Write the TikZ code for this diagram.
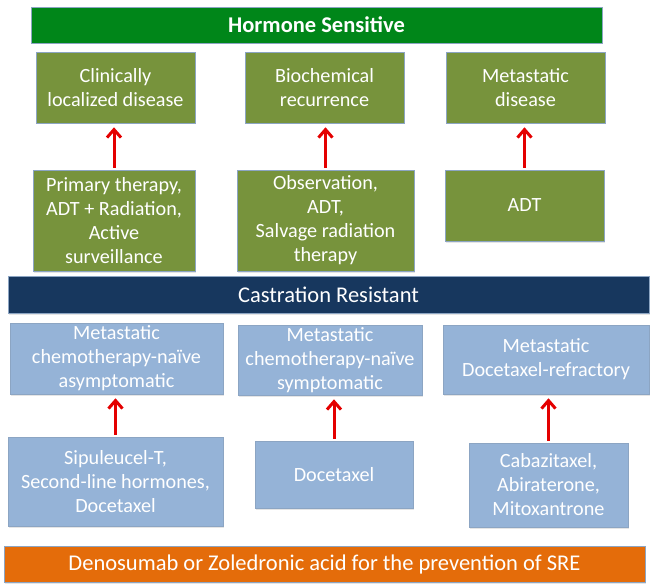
\documentclass[tikz,border=0pt]{standalone}
\usepackage{fontspec}
\setmainfont{Carlito}
\usepackage{tikz}
\usetikzlibrary{arrows.meta,shadows}

\definecolor{hsgreen}{RGB}{0,134,25}
\definecolor{olivebox}{RGB}{119,147,60}
\definecolor{crnavy}{RGB}{23,55,94}
\definecolor{bluebox}{RGB}{149,179,215}
\definecolor{sreorange}{RGB}{228,108,10}
\definecolor{arrowred}{RGB}{228,0,0}
\definecolor{boxline}{RGB}{140,165,195}

\tikzset{
  boxbase/.style={rectangle,draw=boxline,line width=0.6pt,inner sep=2pt,align=center,
    text=white,font=\fontsize{20.2}{24}\selectfont,
    drop shadow={shadow xshift=1pt,shadow yshift=-1.5pt,fill=black!20}},
  hsbox/.style={boxbase,fill=olivebox},
  crbox/.style={boxbase,fill=bluebox},
  banner/.style={boxbase,font=\fontsize{22.5}{26}\selectfont,minimum height=36pt},
  uparrow/.style={draw=arrowred,line width=3pt,-{Straight Barb[length=8pt,width=14pt]},
    shorten >=4pt,shorten <=2pt}
}

\begin{document}
\begin{tikzpicture}[x=1pt,y=-1pt]
  \useasboundingbox (0,0) rectangle (653,588);
  % hormone sensitive
  \node[banner,fill=hsgreen,minimum width=571pt,font=\fontsize{22.5}{26}\selectfont\bfseries] (hs) at (316.5,25) {Hormone Sensitive};
  \node[hsbox,minimum width=159pt,minimum height=71pt] (cld) at (115.5,87.5) {Clinically\\localized disease};
  \node[hsbox,minimum width=159pt,minimum height=71pt] (bcr) at (324.5,87.5) {Biochemical\\recurrence};
  \node[hsbox,minimum width=159pt,minimum height=71pt] (met) at (525.5,87.5) {Metastatic\\disease};
  \node[hsbox,minimum width=162pt,minimum height=101pt] (prim) at (114,220.5) {Primary therapy,\\ADT + Radiation,\\Active\\surveillance};
  \node[hsbox,minimum width=177pt,minimum height=101pt] (obs) at (325.5,220.5) {Observation,\\ADT,\\Salvage radiation\\therapy};
  \node[hsbox,minimum width=159pt,minimum height=71pt] (adt) at (524.5,205.5) {ADT};
  \draw[uparrow] (prim.north) -- (prim.north |- cld.south);
  \draw[uparrow] (obs.north) -- (obs.north |- bcr.south);
  \draw[uparrow] (adt.north) -- (adt.north |- met.south);
  % castration resistant
  \node[banner,fill=crnavy,minimum width=641pt,minimum height=37pt] (cr) at (328.5,294.5) {Castration Resistant};
  \node[crbox,minimum width=213pt,minimum height=71pt] (mcna) at (116.5,358.5) {Metastatic\\chemotherapy-naïve\\asymptomatic};
  \node[crbox,minimum width=184pt,minimum height=70pt] (mcns) at (330,360) {Metastatic\\chemotherapy-naïve\\symptomatic};
  \node[crbox,minimum width=206pt,minimum height=69pt] (mdr) at (546,359.5) {Metastatic\\Docetaxel-refractory};
  \node[crbox,minimum width=215pt,minimum height=89pt] (sip) at (115.5,481.5) {Sipuleucel-T,\\Second-line hormones,\\Docetaxel};
  \node[crbox,minimum width=158pt,minimum height=67pt] (doc) at (334,474.5) {Docetaxel};
  \node[crbox,minimum width=159pt,minimum height=84pt] (cab) at (548.5,485) {Cabazitaxel,\\Abiraterone,\\Mitoxantrone};
  \draw[uparrow] (sip.north) -- (sip.north |- mcna.south);
  \draw[uparrow] (doc.north) -- (doc.north |- mcns.south);
  \draw[uparrow] (cab.north) -- (cab.north |- mdr.south);
  % bone
  \node[banner,fill=sreorange,minimum width=641pt] (sre) at (324.5,564) {Denosumab or Zoledronic acid for the prevention of SRE};
\end{tikzpicture}
\end{document}
